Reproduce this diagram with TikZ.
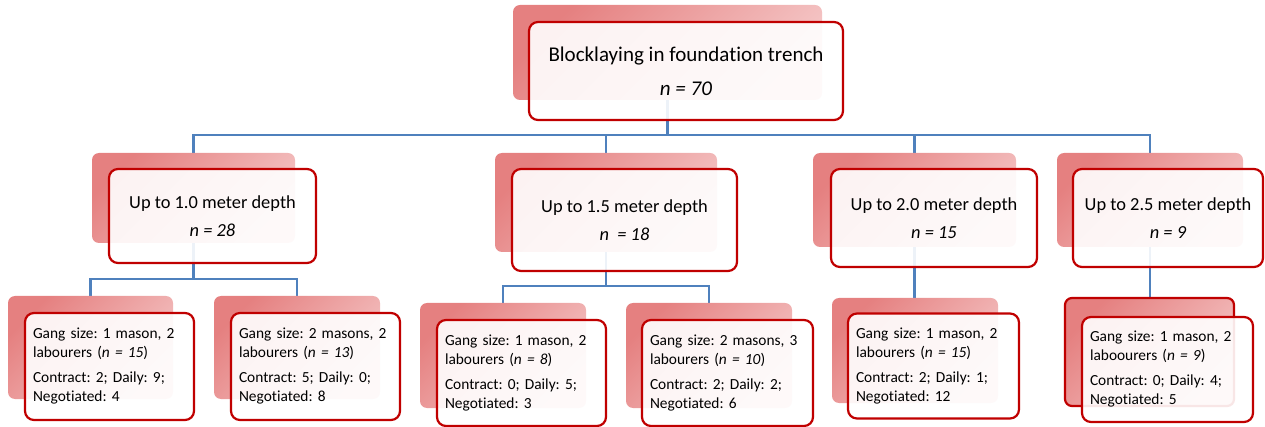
\documentclass[tikz,border=0pt]{standalone}
\usepackage{fontspec}
\setmainfont{Carlito}[Ligatures={NoCommon}]
\frenchspacing
\pgfdeclarelayer{bg}
\pgfdeclarelayer{mid}
\pgfsetlayers{bg,mid,main}
\definecolor{boxred}{RGB}{192,0,0}
\definecolor{shadeA}{RGB}{229,128,128}
\definecolor{shadeB}{RGB}{245,200,200}
\definecolor{connblue}{RGB}{79,129,189}
\tikzset{
  backbox/.style={rounded corners=7pt, shade, top color=shadeA, bottom color=shadeB, shading angle=45, inner sep=0pt},
  frontbox/.style={draw=boxred, line width=2.2pt, rounded corners=9pt, fill=white, fill opacity=0.9, text opacity=1, inner sep=0pt},
  topfont/.style={font=\fontsize{21}{34}\selectfont\frenchspacing, align=center},
  midfont/.style={font=\fontsize{18.4}{28}\selectfont\frenchspacing, align=center},
  leaffont/.style={font=\fontsize{15.4}{19}\selectfont\frenchspacing, align=left, inner xsep=8pt},
  conn/.style={draw=connblue, line width=2.2pt}
}
\begin{document}
\begin{tikzpicture}[x=1pt,y=-1pt]
\useasboundingbox (0,0) rectangle (1265,427);
\begin{pgfonlayer}{mid}
\node[backbox, minimum width=309pt, minimum height=95pt] (b0) at (667.5,52.5) {};
\node[backbox, minimum width=203pt, minimum height=90pt] (b1) at (193.5,198) {};
\node[backbox, minimum width=222pt, minimum height=99pt] (b2) at (606,202.5) {};
\node[backbox, minimum width=203pt, minimum height=94pt] (b3) at (914.5,200) {};
\node[backbox, minimum width=186pt, minimum height=94pt] (b4) at (1150,200) {};
\node[backbox, minimum width=165pt, minimum height=103pt] (c1) at (90.5,347.5) {};
\node[backbox, minimum width=166pt, minimum height=103pt] (c2) at (297,347.5) {};
\node[backbox, minimum width=166pt, minimum height=105pt] (c3) at (503,355.5) {};
\node[backbox, minimum width=166pt, minimum height=105pt] (c4) at (709,355.5) {};
\node[backbox, minimum width=166pt, minimum height=105pt] (c5) at (915,350.5) {};
\node[backbox, draw=boxred, line width=2.2pt, minimum width=169pt, minimum height=108pt] (c6) at (1149.5,352) {};
\end{pgfonlayer}

\node[frontbox, topfont, minimum width=314pt, minimum height=98pt] (f0) at (686,71) {Blocklaying in foundation trench\\\textit{n = 70}};
\node[frontbox, midfont, minimum width=207pt, minimum height=94pt] (f1) at (212.5,216) {Up to 1.0 meter depth\\\textit{n = 28}};
\node[frontbox, midfont, minimum width=225pt, minimum height=102pt] (f2) at (624.5,220) {Up to 1.5 meter depth\\\textit{n \ = 18}};
\node[frontbox, midfont, minimum width=206pt, minimum height=98pt] (f3) at (934,218) {Up to 2.0 meter depth\\\textit{n = 15}};
\node[frontbox, midfont, minimum width=190pt, minimum height=98pt] (f4) at (1168,218) {Up to 2.5 meter depth\\\textit{n = 9}};

\node[frontbox, leaffont, text width=153pt, minimum height=107pt] (g1) at (109.5,366.5) {Gang size: 1 mason, 2\\labourers (\textit{n = 15})\\[6pt]Contract: 2; Daily: 9;\\Negotiated: 4};
\node[frontbox, leaffont, text width=153pt, minimum height=107pt] (g2) at (315.5,366.5) {Gang size: 2 masons, 2\\labourers (\textit{n = 13})\\[6pt]Contract: 5; Daily: 0;\\Negotiated: 8};
\node[frontbox, leaffont, text width=153pt, minimum height=106pt] (g3) at (521.5,373) {Gang size: 1 mason, 2\\labourers (\textit{n = 8})\\[6pt]Contract: 0; Daily: 5;\\Negotiated: 3};
\node[frontbox, leaffont, text width=155pt, minimum height=106pt] (g4) at (727.5,373) {Gang size: 2 masons, 3\\labourers (\textit{n = 10})\\[6pt]Contract: 2; Daily: 2;\\Negotiated: 6};
\node[frontbox, leaffont, text width=155pt, minimum height=105pt] (g5) at (933.5,366) {Gang size: 1 mason, 2\\labourers (\textit{n = 15})\\[6pt]Contract: 2; Daily: 1;\\Negotiated: 12};
\node[frontbox, leaffont, text width=155pt, minimum height=105pt] (g6) at (1167.5,369.5) {Gang size: 1 mason, 2\\laboourers (\textit{n = 9})\\[6pt]Contract: 0; Daily: 4;\\Negotiated: 5};

\begin{pgfonlayer}{bg}
\draw[conn] (b0.south) -- ++(0,35) -| (b1.north);
\draw[conn] (b0.south) -- ++(0,35) -| (b2.north);
\draw[conn] (b0.south) -- ++(0,35) -| (b3.north);
\draw[conn] (b0.south) -- ++(0,35) -| (b4.north);
\draw[conn] (b1.south) -- ++(0,36) -| (c1.north);
\draw[conn] (b1.south) -- ++(0,36) -| (c2.north);
\draw[conn] (b2.south) -- ++(0,34) -| (c3.north);
\draw[conn] (b2.south) -- ++(0,34) -| (c4.north);
\draw[conn] (b3.south) -- (b3.south |- c5.north);
\draw[conn] (b4.south) -- (b4.south |- c6.north);
\end{pgfonlayer}
\end{tikzpicture}
\end{document}
